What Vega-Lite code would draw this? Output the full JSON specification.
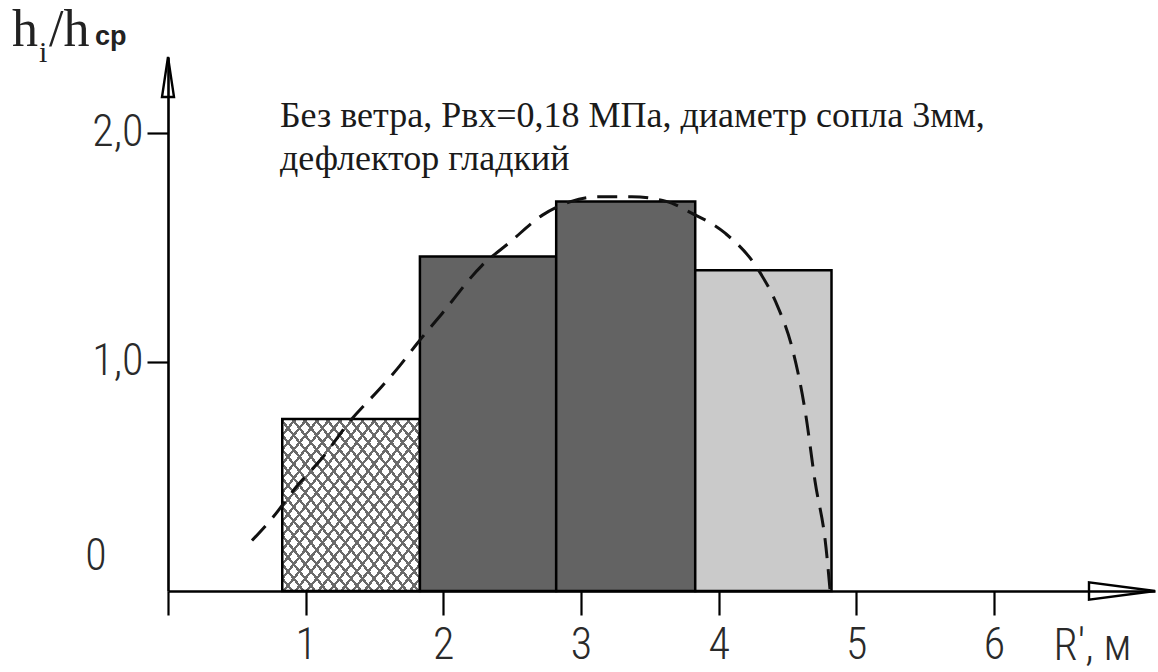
{
"$schema": "https://vega.github.io/schema/vega-lite/v6.json",
"width": 987, "height": 534,
"autosize": "none",
"padding": {"left": 168, "top": 57, "right": 3, "bottom": 81},
"background": "white",
"config": {"view": {"stroke": null}},
"datasets": {
"bars": [
{"r0": 0.83, "r1": 1.83, "h": 0.75, "kind": "hatch"},
{"r0": 1.83, "r1": 2.82, "h": 1.46, "kind": "dark"},
{"r0": 2.82, "r1": 3.83, "h": 1.70, "kind": "dark"},
{"r0": 3.83, "r1": 4.82, "h": 1.40, "kind": "light"}
],
"curve": [
{"r": 0.61, "v": 0.22}, {"r": 0.76, "v": 0.32}, {"r": 0.94, "v": 0.46}, {"r": 1.12, "v": 0.58},
{"r": 1.32, "v": 0.74}, {"r": 1.55, "v": 0.89}, {"r": 1.68, "v": 0.98}, {"r": 1.81, "v": 1.08},
{"r": 1.99, "v": 1.21}, {"r": 2.28, "v": 1.42}, {"r": 2.48, "v": 1.52}, {"r": 2.72, "v": 1.64},
{"r": 2.93, "v": 1.70}, {"r": 3.13, "v": 1.72}, {"r": 3.37, "v": 1.72}, {"r": 3.62, "v": 1.70},
{"r": 3.80, "v": 1.65}, {"r": 4.05, "v": 1.56}, {"r": 4.29, "v": 1.40}, {"r": 4.43, "v": 1.24},
{"r": 4.53, "v": 1.07}, {"r": 4.63, "v": 0.78}, {"r": 4.70, "v": 0.48}, {"r": 4.78, "v": 0.19},
{"r": 4.81, "v": 0.0}
],
"one": [{"k": 1}]
},
"layer": [
{
"data": {"name": "bars"},
"transform": [{"filter": "datum.kind == 'hatch'"}],
"mark": {"type": "rect", "strokeWidth": 0, "color": {"gradient": "linear", "x1": 0, "y1": 0, "x2": 1, "y2": 1, "stops": [
{"offset":0,"color":"#6a6a6a"},{"offset":0.011,"color":"#6a6a6a"},{"offset":0.011,"color":"#ffffff"},{"offset":0.0417,"color":"#ffffff"},
{"offset":0.0417,"color":"#6a6a6a"},{"offset":0.0527,"color":"#6a6a6a"},{"offset":0.0527,"color":"#ffffff"},{"offset":0.0833,"color":"#ffffff"},
{"offset":0.0833,"color":"#6a6a6a"},{"offset":0.0943,"color":"#6a6a6a"},{"offset":0.0943,"color":"#ffffff"},{"offset":0.125,"color":"#ffffff"},
{"offset":0.125,"color":"#6a6a6a"},{"offset":0.136,"color":"#6a6a6a"},{"offset":0.136,"color":"#ffffff"},{"offset":0.1667,"color":"#ffffff"},
{"offset":0.1667,"color":"#6a6a6a"},{"offset":0.1777,"color":"#6a6a6a"},{"offset":0.1777,"color":"#ffffff"},{"offset":0.2083,"color":"#ffffff"},
{"offset":0.2083,"color":"#6a6a6a"},{"offset":0.2193,"color":"#6a6a6a"},{"offset":0.2193,"color":"#ffffff"},{"offset":0.25,"color":"#ffffff"},
{"offset":0.25,"color":"#6a6a6a"},{"offset":0.261,"color":"#6a6a6a"},{"offset":0.261,"color":"#ffffff"},{"offset":0.2917,"color":"#ffffff"},
{"offset":0.2917,"color":"#6a6a6a"},{"offset":0.3027,"color":"#6a6a6a"},{"offset":0.3027,"color":"#ffffff"},{"offset":0.3333,"color":"#ffffff"},
{"offset":0.3333,"color":"#6a6a6a"},{"offset":0.3443,"color":"#6a6a6a"},{"offset":0.3443,"color":"#ffffff"},{"offset":0.375,"color":"#ffffff"},
{"offset":0.375,"color":"#6a6a6a"},{"offset":0.386,"color":"#6a6a6a"},{"offset":0.386,"color":"#ffffff"},{"offset":0.4167,"color":"#ffffff"},
{"offset":0.4167,"color":"#6a6a6a"},{"offset":0.4277,"color":"#6a6a6a"},{"offset":0.4277,"color":"#ffffff"},{"offset":0.4583,"color":"#ffffff"},
{"offset":0.4583,"color":"#6a6a6a"},{"offset":0.4693,"color":"#6a6a6a"},{"offset":0.4693,"color":"#ffffff"},{"offset":0.5,"color":"#ffffff"},
{"offset":0.5,"color":"#6a6a6a"},{"offset":0.511,"color":"#6a6a6a"},{"offset":0.511,"color":"#ffffff"},{"offset":0.5417,"color":"#ffffff"},
{"offset":0.5417,"color":"#6a6a6a"},{"offset":0.5527,"color":"#6a6a6a"},{"offset":0.5527,"color":"#ffffff"},{"offset":0.5833,"color":"#ffffff"},
{"offset":0.5833,"color":"#6a6a6a"},{"offset":0.5943,"color":"#6a6a6a"},{"offset":0.5943,"color":"#ffffff"},{"offset":0.625,"color":"#ffffff"},
{"offset":0.625,"color":"#6a6a6a"},{"offset":0.636,"color":"#6a6a6a"},{"offset":0.636,"color":"#ffffff"},{"offset":0.6667,"color":"#ffffff"},
{"offset":0.6667,"color":"#6a6a6a"},{"offset":0.6777,"color":"#6a6a6a"},{"offset":0.6777,"color":"#ffffff"},{"offset":0.7083,"color":"#ffffff"},
{"offset":0.7083,"color":"#6a6a6a"},{"offset":0.7193,"color":"#6a6a6a"},{"offset":0.7193,"color":"#ffffff"},{"offset":0.75,"color":"#ffffff"},
{"offset":0.75,"color":"#6a6a6a"},{"offset":0.761,"color":"#6a6a6a"},{"offset":0.761,"color":"#ffffff"},{"offset":0.7917,"color":"#ffffff"},
{"offset":0.7917,"color":"#6a6a6a"},{"offset":0.8027,"color":"#6a6a6a"},{"offset":0.8027,"color":"#ffffff"},{"offset":0.8333,"color":"#ffffff"},
{"offset":0.8333,"color":"#6a6a6a"},{"offset":0.8443,"color":"#6a6a6a"},{"offset":0.8443,"color":"#ffffff"},{"offset":0.875,"color":"#ffffff"},
{"offset":0.875,"color":"#6a6a6a"},{"offset":0.886,"color":"#6a6a6a"},{"offset":0.886,"color":"#ffffff"},{"offset":0.9167,"color":"#ffffff"},
{"offset":0.9167,"color":"#6a6a6a"},{"offset":0.9277,"color":"#6a6a6a"},{"offset":0.9277,"color":"#ffffff"},{"offset":0.9583,"color":"#ffffff"},
{"offset":0.9583,"color":"#6a6a6a"},{"offset":0.9693,"color":"#6a6a6a"},{"offset":0.9693,"color":"#ffffff"},{"offset":1,"color":"#ffffff"}
]}},
"encoding": {
"x": {"field": "r0", "type": "quantitative",
"scale": {"domain": [0, 7.17], "nice": false, "zero": false},
"axis": {"values": [0, 1, 2, 3, 4, 5, 6], "labelExpr": "datum.value == 0 ? '' : format(datum.value, 'd')",
"title": "R', м", "titleX": 924, "titleY": 33, "titleAlign": "center", "titleBaseline": "top", "titleAnchor": null,
"titleFont": "Roboto Condensed, Roboto, sans-serif", "titleFontSize": 44, "titleFontWeight": 300, "titleColor": "#2a2a2a",
"labelFont": "Roboto Condensed, Roboto, sans-serif", "labelFontSize": 44, "labelFontWeight": 300, "labelColor": "#2a2a2a", "labelPadding": 8,
"tickSize": 24, "tickWidth": 2.2, "tickColor": "black", "domainColor": "black", "domainWidth": 2.6,
"grid": false, "labelFlush": false, "labelOverlap": false, "zindex": 1}},
"x2": {"field": "r1"},
"y": {"field": "h", "type": "quantitative",
"scale": {"domain": [0, 2.33], "nice": false, "zero": false},
"axis": {"values": [1, 2], "labelExpr": "replace(format(datum.value, '.1f'), '.', ',')", "title": null,
"labelFont": "Roboto Condensed, Roboto, sans-serif", "labelFontSize": 44, "labelFontWeight": 300, "labelColor": "#2a2a2a", "labelPadding": 4,
"tickSize": 21, "tickWidth": 2.2, "tickColor": "black", "domainColor": "black", "domainWidth": 2.6,
"grid": false, "labelFlush": false, "labelOverlap": false, "zindex": 1}},
"y2": {"datum": 0}
}
},
{
"data": {"name": "bars"},
"transform": [{"filter": "datum.kind == 'hatch'"}],
"mark": {"type": "rect", "stroke": "black", "strokeWidth": 2.5, "fill": {"gradient": "linear", "x1": 1, "y1": 0, "x2": 0, "y2": 1, "stops": [
{"offset":0,"color":"#6a6a6a"},{"offset":0.011,"color":"#6a6a6a"},{"offset":0.011,"color":"rgba(0,0,0,0)"},{"offset":0.0417,"color":"rgba(0,0,0,0)"},
{"offset":0.0417,"color":"#6a6a6a"},{"offset":0.0527,"color":"#6a6a6a"},{"offset":0.0527,"color":"rgba(0,0,0,0)"},{"offset":0.0833,"color":"rgba(0,0,0,0)"},
{"offset":0.0833,"color":"#6a6a6a"},{"offset":0.0943,"color":"#6a6a6a"},{"offset":0.0943,"color":"rgba(0,0,0,0)"},{"offset":0.125,"color":"rgba(0,0,0,0)"},
{"offset":0.125,"color":"#6a6a6a"},{"offset":0.136,"color":"#6a6a6a"},{"offset":0.136,"color":"rgba(0,0,0,0)"},{"offset":0.1667,"color":"rgba(0,0,0,0)"},
{"offset":0.1667,"color":"#6a6a6a"},{"offset":0.1777,"color":"#6a6a6a"},{"offset":0.1777,"color":"rgba(0,0,0,0)"},{"offset":0.2083,"color":"rgba(0,0,0,0)"},
{"offset":0.2083,"color":"#6a6a6a"},{"offset":0.2193,"color":"#6a6a6a"},{"offset":0.2193,"color":"rgba(0,0,0,0)"},{"offset":0.25,"color":"rgba(0,0,0,0)"},
{"offset":0.25,"color":"#6a6a6a"},{"offset":0.261,"color":"#6a6a6a"},{"offset":0.261,"color":"rgba(0,0,0,0)"},{"offset":0.2917,"color":"rgba(0,0,0,0)"},
{"offset":0.2917,"color":"#6a6a6a"},{"offset":0.3027,"color":"#6a6a6a"},{"offset":0.3027,"color":"rgba(0,0,0,0)"},{"offset":0.3333,"color":"rgba(0,0,0,0)"},
{"offset":0.3333,"color":"#6a6a6a"},{"offset":0.3443,"color":"#6a6a6a"},{"offset":0.3443,"color":"rgba(0,0,0,0)"},{"offset":0.375,"color":"rgba(0,0,0,0)"},
{"offset":0.375,"color":"#6a6a6a"},{"offset":0.386,"color":"#6a6a6a"},{"offset":0.386,"color":"rgba(0,0,0,0)"},{"offset":0.4167,"color":"rgba(0,0,0,0)"},
{"offset":0.4167,"color":"#6a6a6a"},{"offset":0.4277,"color":"#6a6a6a"},{"offset":0.4277,"color":"rgba(0,0,0,0)"},{"offset":0.4583,"color":"rgba(0,0,0,0)"},
{"offset":0.4583,"color":"#6a6a6a"},{"offset":0.4693,"color":"#6a6a6a"},{"offset":0.4693,"color":"rgba(0,0,0,0)"},{"offset":0.5,"color":"rgba(0,0,0,0)"},
{"offset":0.5,"color":"#6a6a6a"},{"offset":0.511,"color":"#6a6a6a"},{"offset":0.511,"color":"rgba(0,0,0,0)"},{"offset":0.5417,"color":"rgba(0,0,0,0)"},
{"offset":0.5417,"color":"#6a6a6a"},{"offset":0.5527,"color":"#6a6a6a"},{"offset":0.5527,"color":"rgba(0,0,0,0)"},{"offset":0.5833,"color":"rgba(0,0,0,0)"},
{"offset":0.5833,"color":"#6a6a6a"},{"offset":0.5943,"color":"#6a6a6a"},{"offset":0.5943,"color":"rgba(0,0,0,0)"},{"offset":0.625,"color":"rgba(0,0,0,0)"},
{"offset":0.625,"color":"#6a6a6a"},{"offset":0.636,"color":"#6a6a6a"},{"offset":0.636,"color":"rgba(0,0,0,0)"},{"offset":0.6667,"color":"rgba(0,0,0,0)"},
{"offset":0.6667,"color":"#6a6a6a"},{"offset":0.6777,"color":"#6a6a6a"},{"offset":0.6777,"color":"rgba(0,0,0,0)"},{"offset":0.7083,"color":"rgba(0,0,0,0)"},
{"offset":0.7083,"color":"#6a6a6a"},{"offset":0.7193,"color":"#6a6a6a"},{"offset":0.7193,"color":"rgba(0,0,0,0)"},{"offset":0.75,"color":"rgba(0,0,0,0)"},
{"offset":0.75,"color":"#6a6a6a"},{"offset":0.761,"color":"#6a6a6a"},{"offset":0.761,"color":"rgba(0,0,0,0)"},{"offset":0.7917,"color":"rgba(0,0,0,0)"},
{"offset":0.7917,"color":"#6a6a6a"},{"offset":0.8027,"color":"#6a6a6a"},{"offset":0.8027,"color":"rgba(0,0,0,0)"},{"offset":0.8333,"color":"rgba(0,0,0,0)"},
{"offset":0.8333,"color":"#6a6a6a"},{"offset":0.8443,"color":"#6a6a6a"},{"offset":0.8443,"color":"rgba(0,0,0,0)"},{"offset":0.875,"color":"rgba(0,0,0,0)"},
{"offset":0.875,"color":"#6a6a6a"},{"offset":0.886,"color":"#6a6a6a"},{"offset":0.886,"color":"rgba(0,0,0,0)"},{"offset":0.9167,"color":"rgba(0,0,0,0)"},
{"offset":0.9167,"color":"#6a6a6a"},{"offset":0.9277,"color":"#6a6a6a"},{"offset":0.9277,"color":"rgba(0,0,0,0)"},{"offset":0.9583,"color":"rgba(0,0,0,0)"},
{"offset":0.9583,"color":"#6a6a6a"},{"offset":0.9693,"color":"#6a6a6a"},{"offset":0.9693,"color":"rgba(0,0,0,0)"},{"offset":1,"color":"rgba(0,0,0,0)"}
]}},
"encoding": {
"x": {"field": "r0", "type": "quantitative"},
"x2": {"field": "r1"},
"y": {"field": "h", "type": "quantitative"},
"y2": {"datum": 0}
}
},
{
"data": {"name": "bars"},
"transform": [{"filter": "datum.kind == 'dark'"}],
"mark": {"type": "rect", "fill": "#636363", "stroke": "black", "strokeWidth": 2.5},
"encoding": {
"x": {"field": "r0", "type": "quantitative"},
"x2": {"field": "r1"},
"y": {"field": "h", "type": "quantitative"},
"y2": {"datum": 0}
}
},
{
"data": {"name": "bars"},
"transform": [{"filter": "datum.kind == 'light'"}],
"mark": {"type": "rect", "fill": "#cacaca", "stroke": "black", "strokeWidth": 2.5},
"encoding": {
"x": {"field": "r0", "type": "quantitative"},
"x2": {"field": "r1"},
"y": {"field": "h", "type": "quantitative"},
"y2": {"datum": 0}
}
},
{
"data": {"name": "curve"},
"mark": {"type": "line", "stroke": "#111", "strokeWidth": 3, "strokeDash": [20, 11], "interpolate": "monotone"},
"encoding": {
"x": {"field": "r", "type": "quantitative"},
"y": {"field": "v", "type": "quantitative"}
}
},
{
"data": {"name": "one"},
"mark": {"type": "point", "shape": "M0,0L-1,-0.13L-1,0.13Z", "size": 17424, "filled": true, "fill": "white", "stroke": "black", "strokeWidth": 2.4, "opacity": 1},
"encoding": {
"x": {"datum": 7.17, "type": "quantitative"},
"y": {"datum": 0, "type": "quantitative"}
}
},
{
"data": {"name": "one"},
"mark": {"type": "point", "shape": "M0,0L0.15,1L-0.15,1Z", "size": 6400, "filled": true, "fill": "white", "stroke": "black", "strokeWidth": 2.4, "opacity": 1},
"encoding": {
"x": {"datum": 0, "type": "quantitative"},
"y": {"datum": 2.33, "type": "quantitative"}
}
},
{
"data": {"name": "one"},
"mark": {"type": "text", "text": "0", "font": "Roboto Condensed, Roboto, sans-serif", "fontWeight": 300, "fontSize": 44, "color": "#2a2a2a", "align": "center", "baseline": "middle"},
"encoding": {
"x": {"datum": -0.523, "type": "quantitative"},
"y": {"datum": 0.148, "type": "quantitative"}
}
},
{
"data": {"name": "one"},
"mark": {"type": "text", "text": ["Без ветра, Рвх=0,18 МПа, диаметр сопла 3мм,", "дефлектор гладкий"], "lineHeight": 43, "font": "Liberation Serif", "fontSize": 36, "color": "#1a1a1a", "align": "left", "baseline": "alphabetic"},
"encoding": {
"x": {"datum": 0.813, "type": "quantitative"},
"y": {"datum": 2.026, "type": "quantitative"}
}
},
{
"data": {"name": "one"},
"mark": {"type": "text", "text": "h", "font": "Liberation Serif", "fontSize": 52, "color": "#222", "align": "left", "baseline": "alphabetic"},
"encoding": {
"x": {"datum": -1.133, "type": "quantitative"},
"y": {"datum": 2.38, "type": "quantitative"}
}
},
{
"data": {"name": "one"},
"mark": {"type": "text", "text": "i", "font": "Liberation Serif", "fontSize": 30, "color": "#222", "align": "left", "baseline": "alphabetic"},
"encoding": {
"x": {"datum": -0.937, "type": "quantitative"},
"y": {"datum": 2.31, "type": "quantitative"}
}
},
{
"data": {"name": "one"},
"mark": {"type": "text", "text": "/h", "font": "Liberation Serif", "fontSize": 52, "color": "#222", "align": "left", "baseline": "alphabetic"},
"encoding": {
"x": {"datum": -0.864, "type": "quantitative"},
"y": {"datum": 2.38, "type": "quantitative"}
}
},
{
"data": {"name": "one"},
"mark": {"type": "text", "text": "cp", "font": "Liberation Sans", "fontSize": 27, "fontWeight": "bold", "color": "#222", "align": "left", "baseline": "alphabetic"},
"encoding": {
"x": {"datum": -0.53, "type": "quantitative"},
"y": {"datum": 2.384, "type": "quantitative"}
}
}
]
}
